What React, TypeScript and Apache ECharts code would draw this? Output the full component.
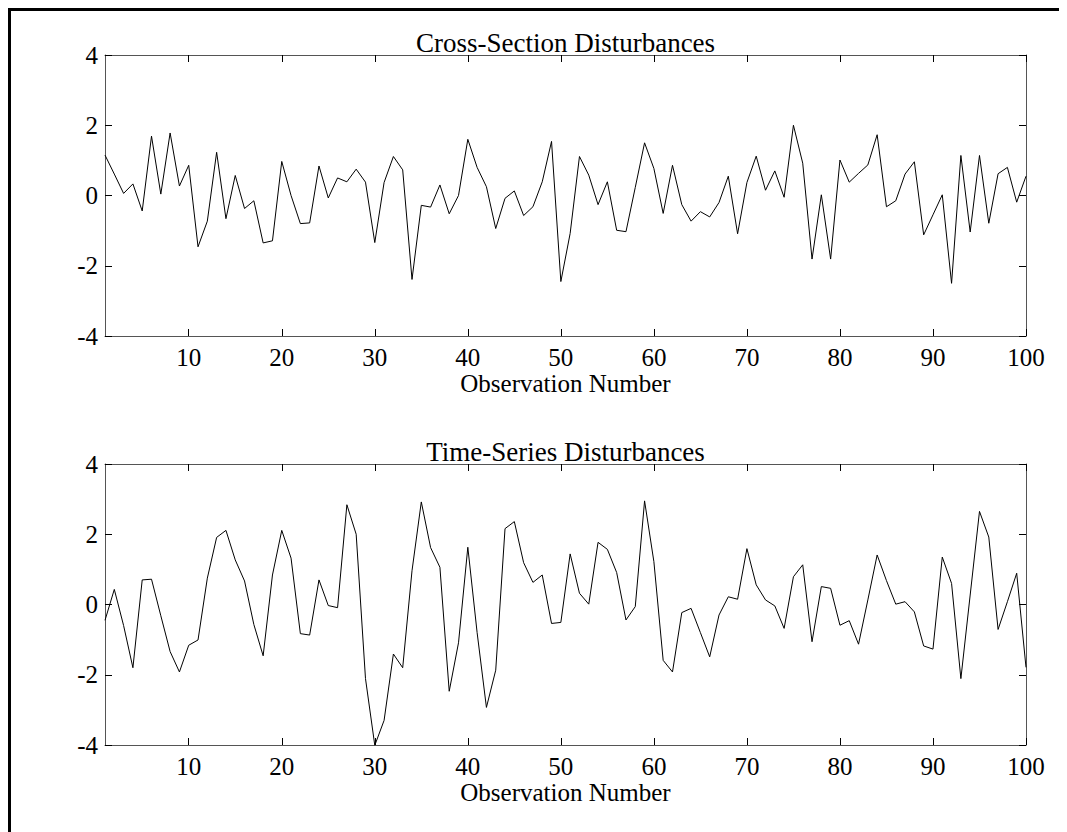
import React, { useEffect, useRef } from "react";
import * as echarts from "echarts";

const xTicks = [10, 20, 30, 40, 50, 60, 70, 80, 90, 100];
const yTicksMin = -4;
const yTicksMax = 4;

const crossSection = [
  1.15, 0.61, 0.06, 0.33, -0.44, 1.69, 0.04, 1.78, 0.27, 0.86,
  -1.46, -0.73, 1.23, -0.66, 0.57, -0.37, -0.15, -1.35, -1.29, 0.97,
  0.0, -0.8, -0.78, 0.84, -0.07, 0.5, 0.39, 0.75, 0.38, -1.34,
  0.37, 1.11, 0.73, -2.39, -0.28, -0.33, 0.3, -0.52, 0.0, 1.6,
  0.8, 0.25, -0.94, -0.08, 0.13, -0.57, -0.32, 0.39, 1.54, -2.45,
  -1.08, 1.11, 0.58, -0.26, 0.39, -0.99, -1.03, 0.23, 1.5, 0.77,
  -0.51, 0.86, -0.26, -0.73, -0.46, -0.61, -0.2, 0.55, -1.09, 0.37,
  1.12, 0.15, 0.7, -0.05, 2.0, 0.92, -1.81, 0.02, -1.81, 1.01,
  0.38, 0.63, 0.87, 1.73, -0.32, -0.15, 0.61, 0.96, -1.12, -0.55,
  0.02, -2.5, 1.14, -1.04, 1.14, -0.79, 0.62, 0.8, -0.19, 0.55,
];

const timeSeries = [
  -0.45, 0.43, -0.6, -1.8, 0.7, 0.72, -0.32, -1.34, -1.92, -1.16,
  -1.01, 0.75, 1.91, 2.11, 1.27, 0.67, -0.57, -1.46, 0.84, 2.11,
  1.32, -0.83, -0.87, 0.7, -0.03, -0.09, 2.84, 2.0, -2.11, -4.01,
  -3.3, -1.41, -1.8, 0.96, 2.92, 1.62, 1.06, -2.47, -1.09, 1.63,
  -0.8, -2.93, -1.87, 2.16, 2.36, 1.19, 0.63, 0.84, -0.54, -0.51,
  1.44, 0.32, 0.01, 1.77, 1.57, 0.91, -0.44, -0.06, 2.95, 1.22,
  -1.59, -1.92, -0.23, -0.11, -0.8, -1.49, -0.3, 0.22, 0.15, 1.59,
  0.56, 0.13, -0.04, -0.68, 0.79, 1.13, -1.06, 0.51, 0.46, -0.59,
  -0.46, -1.13, 0.13, 1.41, 0.68, 0.01, 0.08, -0.21, -1.18, -1.27,
  1.35, 0.6, -2.11, 0.27, 2.65, 1.92, -0.71, 0.08, 0.89, -1.79,
];

const titles = ["Cross-Section Disturbances", "Time-Series Disturbances"];
const xName = "Observation Number";

const FONT = "Liberation Serif";

export default function App() {
  const ref = useRef<HTMLDivElement>(null);
  useEffect(() => {
    if (!ref.current) return;
    const chart = echarts.init(ref.current, undefined, { renderer: "svg" });
    const grids = [
      { left: 94, top: 44, width: 921, height: 281 },
      { left: 94, top: 453, width: 921, height: 281 },
    ];
    const tickStyle = { color: "#000", width: 1 };
    const axisLineStyle = { color: "#555", width: 1 };
    const xAxes: any[] = [];
    const yAxes: any[] = [];
    grids.forEach((_, gi) => {
      xAxes.push({
        type: "value",
        gridIndex: gi,
        position: "bottom",
        min: 1,
        max: 100,
        name: xName,
        nameLocation: "middle",
        nameGap: 31,
        nameTextStyle: { fontFamily: FONT, fontSize: 25, color: "#000" },
        axisLine: { show: true, onZero: false, lineStyle: axisLineStyle },
        axisTick: { show: true, inside: true, length: 7, customValues: xTicks, lineStyle: tickStyle },
        axisLabel: { show: true, customValues: xTicks, margin: 9, fontFamily: FONT, fontSize: 25, color: "#000" },
        splitLine: { show: false },
      });
      xAxes.push({
        type: "value",
        gridIndex: gi,
        position: "top",
        min: 1,
        max: 100,
        axisLine: { show: true, onZero: false, lineStyle: axisLineStyle },
        axisTick: { show: true, inside: true, length: 7, customValues: xTicks, lineStyle: tickStyle },
        axisLabel: { show: false, customValues: xTicks },
        splitLine: { show: false },
      });
      yAxes.push({
        type: "value",
        gridIndex: gi,
        position: "left",
        min: yTicksMin,
        max: yTicksMax,
        interval: 2,
        axisLine: { show: true, onZero: false, lineStyle: axisLineStyle },
        axisTick: { show: true, inside: true, length: 7, lineStyle: tickStyle },
        axisLabel: { show: true, margin: 7, fontFamily: FONT, fontSize: 25, color: "#000" },
        splitLine: { show: false },
      });
      yAxes.push({
        type: "value",
        gridIndex: gi,
        position: "right",
        min: yTicksMin,
        max: yTicksMax,
        interval: 2,
        axisLine: { show: true, onZero: false, lineStyle: axisLineStyle },
        axisTick: { show: true, inside: true, length: 7, lineStyle: tickStyle },
        axisLabel: { show: false },
        splitLine: { show: false },
      });
    });
    const seriesData = [crossSection, timeSeries];
    chart.setOption({
      animation: false,
      backgroundColor: "#fff",
      title: titles.map((t, i) => ({
        text: t,
        left: 554.5,
        top: grids[i].top - 26,
        textAlign: "center",
        textStyle: { fontFamily: FONT, fontSize: 27, fontWeight: "normal", color: "#000" },
        padding: 0,
      })),
      grid: grids.map((g) => ({ ...g, containLabel: false })),
      xAxis: xAxes,
      yAxis: yAxes,
      series: seriesData.map((d, i) => ({
        type: "line",
        xAxisIndex: i * 2,
        yAxisIndex: i * 2,
        data: d.map((v, k) => [k + 1, v]),
        symbol: "none",
        lineStyle: { color: "#000", width: 1 },
        silent: true,
      })),
    });
    return () => chart.dispose();
  }, []);
  return (
    <div
      ref={ref}
      style={{ width: 1067, height: 832, border: "3px solid #000", background: "#fff" }}
    />
  );
}
